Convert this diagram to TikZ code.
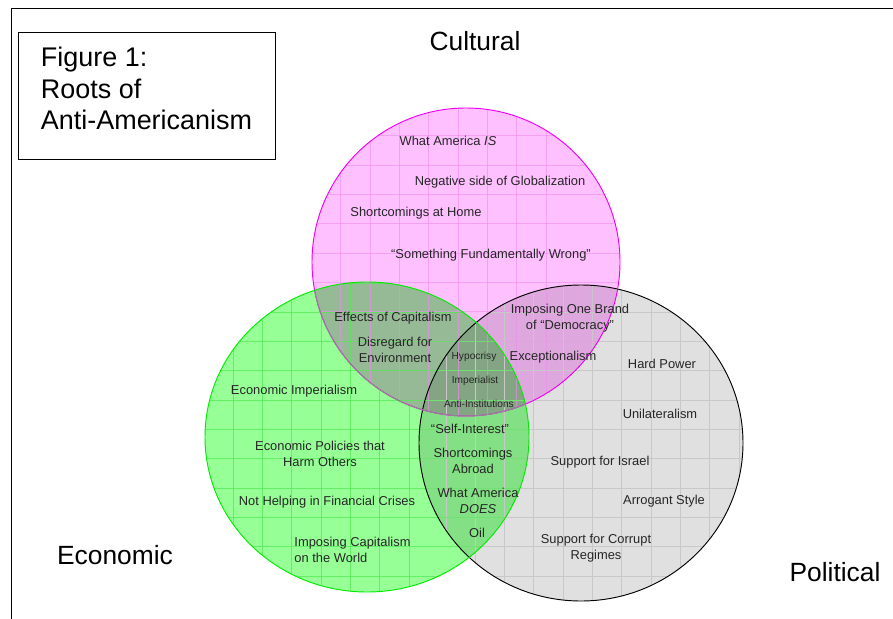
\documentclass[tikz,border=0pt]{standalone}
\usepackage{fontspec}
\setmainfont{Liberation Sans}
\usetikzlibrary{positioning}

\newcommand{\gridstep}{29.3}
\definecolor{cultfill}{RGB}{255,192,255}
\definecolor{cultgrid}{RGB}{238,140,238}
\definecolor{cultdraw}{RGB}{240,0,240}
\definecolor{econfill}{RGB}{150,255,150}
\definecolor{econgrid}{RGB}{80,235,80}
\definecolor{econdraw}{RGB}{0,235,0}
\definecolor{polfill}{RGB}{224,224,224}
\definecolor{polgrid}{RGB}{200,200,200}
\definecolor{cultecon}{RGB}{150,185,150}
\definecolor{cultpol}{RGB}{222,168,222}
\definecolor{econpol}{RGB}{132,224,132}
\definecolor{allthree}{RGB}{132,165,132}
\definecolor{cultunder}{RGB}{150,130,150}

\tikzstyle{itemtext} = [% entries inside the circles
  inner sep=0pt,
  font=\fontsize{11}{13.6}\selectfont,
  align=center,
  text=black!85
  ]
\tikzstyle{smalltext} = [% entries in the middle of all three
  inner sep=0pt,
  font=\fontsize{8.7}{10}\selectfont,
  text=black!85
  ]
\tikzstyle{circletitle} = [% name of each circle
  inner sep=0pt,
  font=\fontsize{22.5}{27}\selectfont
  ]
\tikzstyle{figbox} = [% title box in the corner
  draw=black,
  line width=0.8pt,
  minimum width=7.71cm,
  minimum height=3.81cm,
  text depth=0.42cm,
  align=left,
  font=\fontsize{23}{26.8}\selectfont
  ]
\tikzstyle{gridline} = [% faint squares inside a circle
  line width=0.5pt
  ]

\begin{document}
\begin{tikzpicture}[x=0.03cm, y=-0.03cm]
\useasboundingbox (0,0) rectangle (893,619);

%%% Frame
\coordinate (framebl) at (11,619);
\coordinate (frametl) at (11,8);
\coordinate (frametr) at (893,8);
\draw[line width=0.8pt] (framebl) -- (frametl) -- (frametr);

%%% Circles
\coordinate (cultc) at (466,262);
\coordinate (econc) at (367,437);
\coordinate (polc) at (581,443);

\fill[polfill] (polc) ellipse [x radius=162, y radius=158];
\fill[cultfill] (cultc) ellipse [x radius=154, y radius=154];
\fill[econfill] (econc) ellipse [x radius=162, y radius=155];
\begin{scope}
  \clip (cultc) ellipse [x radius=154, y radius=154];
  \fill[cultpol] (polc) ellipse [x radius=162, y radius=158];
  \fill[cultecon] (econc) ellipse [x radius=162, y radius=155];
\end{scope}
\begin{scope}
  \clip (econc) ellipse [x radius=162, y radius=155];
  \fill[econpol] (polc) ellipse [x radius=162, y radius=158];
  \clip (cultc) ellipse [x radius=154, y radius=154];
  \fill[allthree] (polc) ellipse [x radius=162, y radius=158];
\end{scope}

% grids
\begin{scope}
  \clip (polc) ellipse [x radius=162, y radius=158];
  \foreach \k in {-6,...,6} {
    \draw[gridline, polgrid] ({563+\k*\gridstep},280) -- ++(0,330);
    \draw[gridline, polgrid] (410,{400+\k*\gridstep}) -- ++(340,0);
  }
\end{scope}
\begin{scope}
  \clip (cultc) ellipse [x radius=154, y radius=154];
  \foreach \k in {-6,...,6} {
    \draw[gridline, cultgrid, draw opacity=0.6] ({370+\k*\gridstep},100) -- ++(0,330);
    \draw[gridline, cultgrid, draw opacity=0.6] (300,{165+\k*\gridstep}) -- ++(340,0);
  }
\end{scope}
\begin{scope}
  \clip (econc) ellipse [x radius=162, y radius=155];
  \foreach \k in {-6,...,6} {
    \draw[gridline, econgrid, draw opacity=0.7] ({233+\k*\gridstep},275) -- ++(0,330);
    \draw[gridline, econgrid, draw opacity=0.7] (195,{400+\k*\gridstep}) -- ++(340,0);
  }
\end{scope}

% outlines
\draw[black, line width=0.8pt] (polc) ellipse [x radius=162, y radius=158];
\draw[cultdraw, line width=0.8pt] (cultc) ellipse [x radius=154, y radius=154];
\begin{scope}
  \clip (econc) ellipse [x radius=162, y radius=155];
  \draw[cultunder, line width=0.8pt] (cultc) ellipse [x radius=154, y radius=154];
\end{scope}
\draw[econdraw, line width=0.8pt] (econc) ellipse [x radius=162, y radius=155];

%%% Titles
\node[figbox] (figtitle) at (146.5,95.5) {Figure 1:\\Roots of\\Anti-Americanism};
\node[circletitle] (cultural) at (475,41) {Cultural};
\node[circletitle] (economic) at (115,555) {Economic};
\node[circletitle] (political) at (835,572) {Political};

%%% Cultural
\node[itemtext] (whatis) at (448,141) {What America \textit{IS}};
\node[itemtext] (globalization) at (500,182) {Negative side of Globalization};
\node[itemtext] (homeshort) at (416,213) {Shortcomings at Home};
\node[itemtext] (fundwrong) at (491,255) {“Something Fundamentally Wrong”};

%%% Cultural and Economic
\node[itemtext] (capeffects) at (393,318) {Effects of Capitalism};
\node[itemtext] (environment) at (395,350) {Disregard for\\Environment};

%%% All three
\node[smalltext] (hypocrisy) at (474,357) {Hypocrisy};
\node[smalltext] (imperialist) at (475,381) {Imperialist};
\node[smalltext] (antiinst) at (479,404) {Anti-Institutions};

%%% Cultural and Political
\node[itemtext] (onebrand) at (570,318) {Imposing One Brand\\of “Democracy”};
\node[itemtext] (exceptional) at (553,357) {Exceptionalism};

%%% Economic
\node[itemtext] (econimp) at (294,391) {Economic Imperialism};
\node[itemtext] (harmpolicy) at (320,453.5) {Economic Policies that\\Harm Others};
\node[itemtext] (crises) at (327,502) {Not Helping in Financial Crises};
\node[itemtext, align=left] (impcap) at (352.5,550) {Imposing Capitalism\\ on the World};

%%% Economic and Political
\node[itemtext] (selfint) at (470,429) {“Self-Interest”};
\node[itemtext] (abroad) at (473,461) {Shortcomings\\Abroad};
\node[itemtext] (whatdoes) at (478,501) {What America\\\textit{DOES}};
\node[itemtext] (oil) at (477,533) {Oil};

%%% Political
\node[itemtext] (hardpower) at (662,364) {Hard Power};
\node[itemtext] (unilateral) at (660,414) {Unilateralism};
\node[itemtext] (israel) at (600,462) {Support for Israel};
\node[itemtext] (arrogant) at (664,501) {Arrogant Style};
\node[itemtext] (corrupt) at (596,548) {Support for Corrupt\\Regimes};

\end{tikzpicture}
\end{document}
